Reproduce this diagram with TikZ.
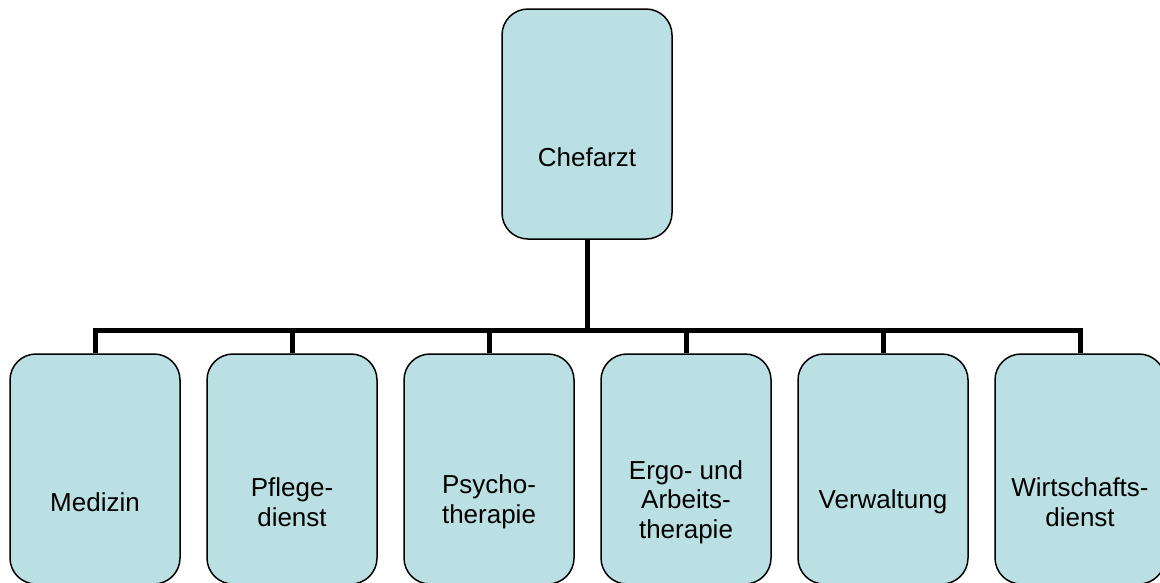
\documentclass[tikz,border=0pt]{standalone}
\usepackage{fontspec}
\setmainfont{Liberation Sans}
\definecolor{boxfill}{RGB}{187,224,227}
\begin{document}
\begin{tikzpicture}[x=1pt,y=-1pt,
  box/.style={draw=black,line width=1.5pt,fill=boxfill,rounded corners=26pt,
    minimum width=170pt,minimum height=230pt,inner sep=0pt,
    label={[txt,yshift=-33pt]center:#1}},
  txt/.style={inner sep=0pt,align=center,font=\fontsize{26}{29.5}\selectfont},
  conn/.style={line width=5pt}]
\useasboundingbox (0,0) rectangle (1160,582);
\node[box={Chefarzt}] (chef) at (587,124) {};
\node[box={Medizin}] (b1) at (95,469) {};
\node[box={Pflege-\\dienst}] (b2) at (292,469) {};
\node[box={Psycho-\\therapie}] (b3) at (489,469) {};
\node[box={Ergo- und\\Arbeits-\\therapie}] (b4) at (686,469) {};
\node[box={Verwaltung}] (b5) at (883,469) {};
\node[box={Wirtschafts-\\dienst}] (b6) at (1080,469) {};
\coordinate (bar) at (587,330.5);
\draw[conn] (chef.south) -- (bar);
\draw[conn] (b1.north) -- (b1.north |- bar) -- (b6.north |- bar) -- (b6.north);
\foreach \b in {b2,b3,b4,b5}{
  \draw[conn] (\b.north) -- (\b.north |- bar);
}
\end{tikzpicture}
\end{document}
